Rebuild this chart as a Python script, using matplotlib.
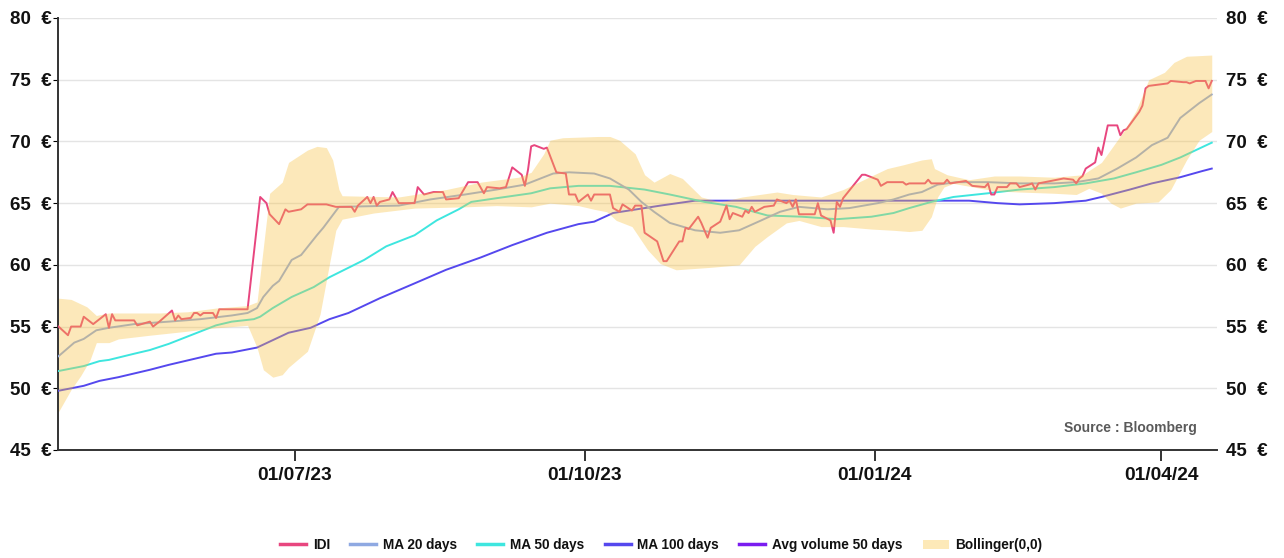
import matplotlib
matplotlib.use("Agg")
import matplotlib.pyplot as plt
import matplotlib.dates as mdates
from matplotlib.lines import Line2D
from matplotlib.patches import Patch
import pandas as pd

plt.rcParams["font.family"] = ["Liberation Sans", "DejaVu Sans"]

# ---- price series -------------------------------------------------------
idi_dates = [
    "2023-04-17", "2023-04-20", "2023-04-21", "2023-04-24", "2023-04-25", "2023-04-28",
    "2023-05-02", "2023-05-03", "2023-05-04", "2023-05-05", "2023-05-11", "2023-05-12",
    "2023-05-16", "2023-05-17", "2023-05-19", "2023-05-23", "2023-05-24", "2023-05-25",
    "2023-05-26", "2023-05-29", "2023-05-30", "2023-05-31", "2023-06-01", "2023-06-02",
    "2023-06-05", "2023-06-06", "2023-06-07", "2023-06-16", "2023-06-20", "2023-06-22",
    "2023-06-23", "2023-06-26", "2023-06-28", "2023-06-29", "2023-07-03", "2023-07-05",
    "2023-07-11", "2023-07-14", "2023-07-19", "2023-07-20", "2023-07-21", "2023-07-24",
    "2023-07-25", "2023-07-26", "2023-07-27", "2023-07-28", "2023-07-31", "2023-08-01",
    "2023-08-03", "2023-08-08", "2023-08-09", "2023-08-11", "2023-08-14", "2023-08-17",
    "2023-08-18", "2023-08-22", "2023-08-25", "2023-08-28", "2023-08-30", "2023-08-31",
    "2023-09-04", "2023-09-06", "2023-09-08", "2023-09-11", "2023-09-12", "2023-09-13",
    "2023-09-14", "2023-09-15", "2023-09-18", "2023-09-19", "2023-09-22", "2023-09-25",
    "2023-09-26", "2023-09-28", "2023-09-29", "2023-10-02", "2023-10-03", "2023-10-04",
    "2023-10-09", "2023-10-10", "2023-10-12", "2023-10-13", "2023-10-16", "2023-10-17",
    "2023-10-19", "2023-10-20", "2023-10-24", "2023-10-26", "2023-10-27", "2023-10-30",
    "2023-10-31", "2023-11-01", "2023-11-02", "2023-11-03", "2023-11-06", "2023-11-07",
    "2023-11-09", "2023-11-10", "2023-11-13", "2023-11-15", "2023-11-16", "2023-11-17",
    "2023-11-20", "2023-11-21", "2023-11-22", "2023-11-23", "2023-11-24", "2023-11-27",
    "2023-11-30", "2023-12-01", "2023-12-04", "2023-12-05", "2023-12-06", "2023-12-07",
    "2023-12-08", "2023-12-13", "2023-12-14", "2023-12-15", "2023-12-18", "2023-12-19",
    "2023-12-20", "2023-12-21", "2023-12-22", "2023-12-28", "2023-12-29", "2024-01-02",
    "2024-01-03", "2024-01-05", "2024-01-10", "2024-01-11", "2024-01-12", "2024-01-17",
    "2024-01-18", "2024-01-19", "2024-01-23", "2024-01-24", "2024-01-25", "2024-01-30",
    "2024-02-01", "2024-02-05", "2024-02-06", "2024-02-07", "2024-02-08", "2024-02-09",
    "2024-02-12", "2024-02-13", "2024-02-15", "2024-02-16", "2024-02-19", "2024-02-20",
    "2024-02-21", "2024-02-22", "2024-02-26", "2024-03-01", "2024-03-04", "2024-03-05",
    "2024-03-06", "2024-03-07", "2024-03-08", "2024-03-11", "2024-03-12", "2024-03-13",
    "2024-03-15", "2024-03-18", "2024-03-19", "2024-03-20", "2024-03-21", "2024-03-25",
    "2024-03-26", "2024-03-27", "2024-03-28", "2024-04-03", "2024-04-04", "2024-04-08",
    "2024-04-09", "2024-04-10", "2024-04-12", "2024-04-15", "2024-04-16", "2024-04-17",
]
idi_values = [
    55.0, 54.3, 55.0, 55.0, 55.8, 55.2,
    56.0, 54.9, 56.0, 55.5, 55.5, 55.1,
    55.4, 55.0, 55.4, 56.3, 55.5, 55.9,
    55.6, 55.7, 56.1, 56.1, 55.9, 56.1,
    56.1, 55.7, 56.4, 56.4, 65.5, 65.0,
    64.1, 63.3, 64.5, 64.3, 64.5, 64.9,
    64.9, 64.7, 64.7, 64.3, 64.8, 65.5,
    65.0, 65.5, 64.8, 65.1, 65.3, 65.9,
    65.0, 65.0, 66.3, 65.7, 65.9, 65.9,
    65.3, 65.4, 66.7, 66.7, 65.8, 66.3,
    66.2, 66.3, 67.9, 67.3, 66.4, 67.7,
    69.6, 69.7, 69.4, 69.5, 67.5, 67.4,
    65.7, 65.7, 65.1, 65.7, 65.2, 65.7,
    65.7, 64.6, 64.3, 64.9, 64.4, 64.8,
    64.8, 62.6, 61.9, 60.3, 60.3, 61.5,
    61.9, 61.9, 63.0, 62.9, 63.9, 63.4,
    62.2, 63.0, 63.5, 64.8, 63.7, 64.2,
    63.9, 64.4, 64.2, 64.7, 64.3, 64.7,
    64.8, 65.3, 65.0, 65.2, 64.7, 65.3,
    64.1, 64.1, 65.0, 64.0, 63.6, 62.6,
    65.1, 64.7, 65.4, 67.3, 67.3, 66.9,
    66.4, 66.7, 66.7, 66.5, 66.6, 66.6,
    66.9, 66.6, 66.6, 66.9, 66.6, 66.8,
    66.4, 66.3, 66.6, 65.7, 65.7, 66.3,
    66.3, 66.6, 66.6, 66.3, 66.5, 66.6,
    66.1, 66.6, 66.8, 67.0, 66.9, 66.6,
    67.0, 67.2, 67.8, 68.3, 69.5, 68.9,
    71.3, 71.3, 70.5, 70.9, 71.0, 72.4,
    72.9, 74.3, 74.5, 74.7, 74.9, 74.8,
    74.8, 74.7, 74.9, 74.9, 74.3, 74.9,
]

# ---- moving averages ----------------------------------------------------
ma20_dates = [
    "2023-04-17", "2023-04-22", "2023-04-25", "2023-04-29", "2023-05-03", "2023-05-11",
    "2023-05-22", "2023-06-01", "2023-06-11", "2023-06-16", "2023-06-19", "2023-06-21",
    "2023-06-24", "2023-06-26", "2023-06-30", "2023-07-03", "2023-07-08", "2023-07-10",
    "2023-07-15", "2023-08-03", "2023-08-13", "2023-08-24", "2023-09-03", "2023-09-12",
    "2023-09-17", "2023-09-21", "2023-09-26", "2023-10-04", "2023-10-09", "2023-10-15",
    "2023-10-19", "2023-10-23", "2023-10-28", "2023-11-05", "2023-11-13", "2023-11-19",
    "2023-11-26", "2023-12-02", "2023-12-08", "2023-12-17", "2023-12-24", "2024-01-02",
    "2024-01-07", "2024-01-12", "2024-01-16", "2024-01-21", "2024-01-27", "2024-02-06",
    "2024-02-16", "2024-02-27", "2024-03-05", "2024-03-12", "2024-03-18", "2024-03-24",
    "2024-03-29", "2024-04-03", "2024-04-07", "2024-04-13", "2024-04-17",
]
ma20_values = [
    52.6, 53.7, 54.0, 54.7, 54.9, 55.2,
    55.4, 55.6, 55.9, 56.1, 56.5, 57.4,
    58.3, 58.7, 60.4, 60.8, 62.4, 63.0,
    64.7, 64.8, 65.3, 65.7, 66.1, 66.5,
    67.0, 67.4, 67.5, 67.4, 67.0, 66.1,
    65.1, 64.3, 63.4, 62.8, 62.6, 62.8,
    63.6, 64.3, 64.7, 64.5, 64.6, 65.0,
    65.3, 65.7, 65.9, 66.5, 66.7, 66.7,
    66.6, 66.6, 66.7, 67.0, 67.8, 68.7,
    69.7, 70.3, 71.9, 73.1, 73.8,
]

ma50_dates = [
    "2023-04-17", "2023-04-25", "2023-04-30", "2023-05-03", "2023-05-11", "2023-05-16",
    "2023-05-22", "2023-05-27", "2023-06-01", "2023-06-06", "2023-06-11", "2023-06-18",
    "2023-06-20", "2023-06-24", "2023-06-30", "2023-07-07", "2023-07-12", "2023-07-23",
    "2023-07-30", "2023-08-08", "2023-08-15", "2023-08-22", "2023-08-26", "2023-09-03",
    "2023-09-14", "2023-09-20", "2023-09-29", "2023-10-09", "2023-10-20", "2023-10-28",
    "2023-11-08", "2023-11-18", "2023-11-28", "2023-12-09", "2023-12-20", "2023-12-31",
    "2024-01-07", "2024-01-12", "2024-01-19", "2024-01-26", "2024-02-06", "2024-02-16",
    "2024-02-27", "2024-03-08", "2024-03-17", "2024-03-24", "2024-04-01", "2024-04-07",
    "2024-04-12", "2024-04-17",
]
ma50_values = [
    51.4, 51.8, 52.2, 52.3, 52.8, 53.1,
    53.6, 54.1, 54.6, 55.1, 55.4, 55.6,
    55.8, 56.5, 57.4, 58.2, 59.0, 60.4,
    61.5, 62.4, 63.6, 64.5, 65.1, 65.4,
    65.8, 66.2, 66.4, 66.4, 66.1, 65.7,
    65.1, 64.7, 64.0, 63.9, 63.7, 63.9,
    64.2, 64.6, 65.1, 65.5, 65.8, 66.1,
    66.3, 66.6, 67.0, 67.5, 68.1, 68.7,
    69.3, 69.9,
]

ma100_dates = [
    "2023-04-17", "2023-04-25", "2023-04-30", "2023-05-06", "2023-05-11", "2023-05-16",
    "2023-05-22", "2023-05-27", "2023-06-01", "2023-06-06", "2023-06-11", "2023-06-19",
    "2023-06-24", "2023-06-29", "2023-07-06", "2023-07-12", "2023-07-18", "2023-07-28",
    "2023-08-08", "2023-08-18", "2023-08-29", "2023-09-08", "2023-09-19", "2023-09-29",
    "2023-10-04", "2023-10-10", "2023-10-15", "2023-10-25", "2023-11-05", "2023-11-15",
    "2023-12-06", "2024-01-12", "2024-01-31", "2024-02-09", "2024-02-16", "2024-02-27",
    "2024-03-08", "2024-03-13", "2024-03-22", "2024-03-29", "2024-04-07", "2024-04-14",
    "2024-04-17",
]
ma100_values = [
    49.8, 50.2, 50.6, 50.9, 51.2, 51.5,
    51.9, 52.2, 52.5, 52.8, 52.9, 53.3,
    53.9, 54.5, 54.9, 55.6, 56.1, 57.3,
    58.5, 59.6, 60.6, 61.6, 62.6, 63.3,
    63.5, 64.2, 64.4, 64.8, 65.2, 65.2,
    65.2, 65.2, 65.2, 65.0, 64.9, 65.0,
    65.2, 65.5, 66.1, 66.6, 67.1, 67.6,
    67.8,
]

# ---- Bollinger envelope -------------------------------------------------
boll_up_dates = [
    "2023-04-17", "2023-04-21", "2023-04-26", "2023-04-29", "2023-05-03", "2023-05-19",
    "2023-05-28", "2023-06-06", "2023-06-16", "2023-06-19", "2023-06-23", "2023-06-27",
    "2023-06-29", "2023-07-05", "2023-07-08", "2023-07-11", "2023-07-13", "2023-07-15",
    "2023-07-16", "2023-08-03", "2023-08-18", "2023-08-29", "2023-09-10", "2023-09-14",
    "2023-09-18", "2023-09-20", "2023-09-24", "2023-10-05", "2023-10-09", "2023-10-12",
    "2023-10-17", "2023-10-20", "2023-10-23", "2023-10-28", "2023-11-01", "2023-11-07",
    "2023-11-13", "2023-11-20", "2023-12-01", "2023-12-06", "2023-12-15", "2023-12-22",
    "2023-12-31", "2024-01-05", "2024-01-10", "2024-01-16", "2024-01-19", "2024-01-20",
    "2024-01-24", "2024-01-31", "2024-02-08", "2024-02-16", "2024-02-27", "2024-03-07",
    "2024-03-13", "2024-03-20", "2024-03-24", "2024-03-28", "2024-04-02", "2024-04-05",
    "2024-04-09", "2024-04-17",
]
boll_up_values = [
    57.3, 57.2, 56.6, 55.9, 56.1, 56.1,
    56.2, 56.5, 56.7, 57.0, 65.8, 66.7,
    68.3, 69.3, 69.6, 69.5, 68.5, 66.1,
    65.6, 65.5, 66.1, 66.7, 67.1, 67.5,
    69.0, 70.1, 70.3, 70.4, 70.4, 70.1,
    69.0, 67.3, 66.7, 67.4, 67.0, 65.5,
    65.1, 65.5, 65.9, 65.7, 65.5, 66.1,
    67.2, 67.8, 68.1, 68.5, 68.6, 67.8,
    67.3, 66.9, 67.2, 67.2, 67.1, 67.3,
    68.3, 70.8, 72.5, 75.0, 75.6, 76.4,
    76.9, 77.0,
]

boll_low_dates = [
    "2023-04-17", "2023-04-21", "2023-04-24", "2023-04-27", "2023-04-29", "2023-05-03",
    "2023-05-06", "2023-05-16", "2023-05-27", "2023-06-06", "2023-06-16", "2023-06-19",
    "2023-06-21", "2023-06-24", "2023-06-27", "2023-06-29", "2023-07-05", "2023-07-09",
    "2023-07-12", "2023-07-14", "2023-07-16", "2023-07-26", "2023-08-08", "2023-08-24",
    "2023-09-03", "2023-09-14", "2023-09-20", "2023-09-29", "2023-10-04", "2023-10-08",
    "2023-10-11", "2023-10-16", "2023-10-21", "2023-10-25", "2023-10-30", "2023-11-10",
    "2023-11-19", "2023-11-24", "2023-11-28", "2023-12-04", "2023-12-08", "2023-12-15",
    "2023-12-22", "2023-12-31", "2024-01-07", "2024-01-12", "2024-01-16", "2024-01-19",
    "2024-01-21", "2024-01-23", "2024-01-26", "2024-02-08", "2024-02-16", "2024-02-27",
    "2024-03-05", "2024-03-09", "2024-03-13", "2024-03-16", "2024-03-19", "2024-03-24",
    "2024-03-31", "2024-04-04", "2024-04-09", "2024-04-13", "2024-04-17",
]
boll_low_values = [
    48.1, 49.9, 51.0, 52.3, 53.7, 53.7,
    54.0, 54.3, 54.6, 54.9, 55.1, 53.3,
    51.5, 50.9, 51.1, 51.7, 53.0, 56.0,
    60.1, 62.8, 63.7, 64.2, 64.6, 64.7,
    64.8, 64.7, 65.0, 64.8, 64.5, 64.3,
    63.6, 63.1, 61.2, 60.1, 59.6, 59.8,
    60.0, 61.5, 62.3, 63.4, 63.6, 63.1,
    63.1, 62.9, 62.8, 62.7, 62.8, 63.9,
    65.5, 66.3, 66.6, 66.0, 65.9, 65.8,
    65.7, 66.2, 65.8, 65.0, 64.6, 65.0,
    65.1, 66.1, 68.5, 70.1, 70.8,
]

y_ticks = [45, 50, 55, 60, 65, 70, 75, 80]
x_ticks = ["2023-07-01", "2023-10-01", "2024-01-01", "2024-04-01"]

# ---- styling ------------------------------------------------------------
C_IDI = "#e8467f"
C_MA20 = "#8fa9e2"
C_MA50 = "#3ee6df"
C_MA100 = "#5548ee"
C_VOL = "#7a1cf0"
C_BAND = "#f8c140"
C_BAND_KEY = "#fde9b8"
TXT = "#111111"

fig = plt.figure(figsize=(12.84, 5.58), dpi=100)
ax = fig.add_axes([58 / 1284, 108 / 558, 1159 / 1284, 432 / 558])

ax.plot(pd.to_datetime(ma100_dates), ma100_values, color=C_MA100, lw=1.4, zorder=3)
ax.plot(pd.to_datetime(ma50_dates), ma50_values, color=C_MA50, lw=1.4, zorder=3)
ax.plot(pd.to_datetime(ma20_dates), ma20_values, color=C_MA20, lw=1.4, zorder=3)
ax.plot(pd.to_datetime(idi_dates), idi_values, color=C_IDI, lw=1.4, zorder=4)

# envelope laid over the lines, translucent
band = pd.DataFrame({"up": pd.Series(boll_up_values, index=pd.to_datetime(boll_up_dates)),
                     "low": pd.Series(boll_low_values, index=pd.to_datetime(boll_low_dates))})
band = band.interpolate(method="time").dropna()
ax.fill_between(band.index, band["low"], band["up"], color=C_BAND, alpha=0.36,
                lw=0, zorder=5)

ax.set_ylim(45, 80)
ax.set_xlim(pd.Timestamp("2023-04-16 20:00"), pd.Timestamp("2024-04-18 16:00"))
ax.set_yticks(y_ticks)
ax.set_yticklabels([f"{v}  €" for v in y_ticks])
ax.set_xticks(pd.to_datetime(x_ticks))
ax.xaxis.set_major_formatter(mdates.DateFormatter("%d/%m/%y"))

ax.grid(axis="y", color="#e4e4e4", lw=1.0, zorder=0)
ax.set_axisbelow(True)
for s in ("top", "right"):
    ax.spines[s].set_visible(False)
for s in ("left", "bottom"):
    ax.spines[s].set_color("#333333")
    ax.spines[s].set_linewidth(1.4)

ax.tick_params(axis="y", left=False, right=False, pad=1, labelsize=13.5,
               labelcolor=TXT)
for lab in ax.get_yticklabels():
    lab.set_fontweight("bold")

# the same price scale repeated on the right-hand side
ax_r = ax.twinx()
ax_r.set_ylim(ax.get_ylim())
ax_r.set_yticks(y_ticks)
ax_r.set_yticklabels([f"{v}  €" for v in y_ticks])
ax_r.tick_params(axis="y", right=False, pad=3, labelsize=13.5, labelcolor=TXT)
for lab in ax_r.get_yticklabels():
    lab.set_fontweight("bold")
for s in ax_r.spines.values():
    s.set_visible(False)

ax.tick_params(axis="x", direction="out", length=8, width=1.4, color="#333333",
               pad=4, labelsize=13.8, labelcolor=TXT)
for lab in ax.get_xticklabels():
    lab.set_fontweight("bold")

ax.text(0.983, 0.051, "Source : Bloomberg", transform=ax.transAxes, ha="right",
        va="center", fontsize=10, fontweight="bold", color="#5a5a5a")

handles = [
    Line2D([], [], color=C_IDI, lw=2.5),
    Line2D([], [], color=C_MA20, lw=2.5),
    Line2D([], [], color=C_MA50, lw=2.5),
    Line2D([], [], color=C_MA100, lw=2.5),
    Line2D([], [], color=C_VOL, lw=2.5),
    Patch(facecolor=C_BAND_KEY, edgecolor="none"),
]
labels = ["IDI", "MA 20 days", "MA 50 days", "MA 100 days", "Avg volume 50 days",
          "Bollinger(0,0)"]
leg = fig.legend(handles, labels, loc="center", bbox_to_anchor=(0.515, 0.023),
                 ncol=6, frameon=False, fontsize=9.8, handlelength=1.9,
                 handletextpad=0.5, columnspacing=1.5)
for t in leg.get_texts():
    t.set_fontweight("bold")
    t.set_color(TXT)

fig.savefig("out.png", dpi=100)
